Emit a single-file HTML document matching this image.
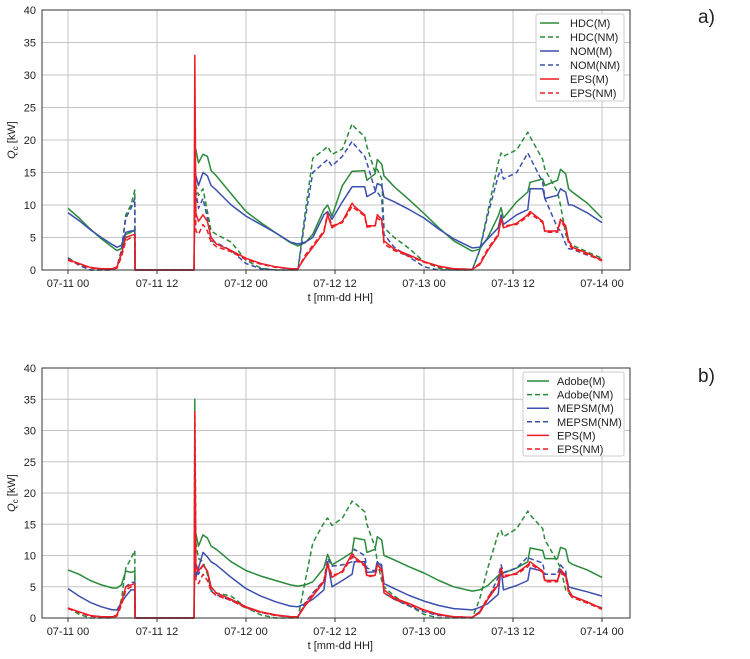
<!DOCTYPE html>
<html><head><meta charset="utf-8">
<style>
body{margin:0;background:#fff;width:750px;height:659px;overflow:hidden}
svg{display:block;font-family:"Liberation Sans","DejaVu Sans",sans-serif}
</style></head>
<body>
<svg id="chart" width="750" height="659" viewBox="0 0 750 659" xmlns="http://www.w3.org/2000/svg"></svg>
<script>
// shared time grid (hours since 07-11 00)
const times = [0,1.5,3,4.5,6,6.6,7.2,7.8,8.5,9,9.05,
 17,17.1,17.25,17.6,18.2,18.8,19.3,20,22,24,26,28,30,31,
 32,33,34.5,35,35.6,37,38.3,38.6,40,40.3,41.4,41.7,42.3,42.6,44,46,48,50,52,54.5,
 55.5,56.6,58,58.4,58.7,60.5,62,62.3,64,64.3,66,66.4,67.1,67.5,68,70,72];
const xTickHours = [0,12,24,36,48,60,72];
const xTickLabels = ["07-11 00","07-11 12","07-12 00","07-12 12","07-13 00","07-13 12","07-14 00"];
const yTicks = [0,5,10,15,20,25,30,35,40];

// panel a
const hdcM = [9.5,8,6.3,4.8,3.5,3.0,3.3,5.5,5.8,6.2,0,
 0,19,18.5,16.5,17.8,17.5,15.3,14.5,11.7,9,7.3,5.7,4.2,3.7,
 4.2,5.5,9.3,10,8.3,13,15.2,15.2,15.3,13.8,14.8,17,16.3,14.5,12.8,10.8,8.7,6.5,4.5,2.9,
 3.2,5,8.3,9.6,8,10.5,12,13.5,14,13,13.8,15.5,14.8,12.5,12,10.3,8];
const hdcNM = [1.9,0.8,0,0,0,0.5,3,8.5,10,12.3,0,
 0,14,13,11.5,12.5,9,6,5.5,4.3,1.5,0.3,0,0,0,
 9,17.2,18.5,19,17.8,18.6,22.5,22,20.5,19,15,15.5,14,6.5,5,3.3,1.3,0.3,0,0,
 3,9,16.5,18,17.5,18.5,21.2,20.5,17,15.5,12,10,5.5,4.5,3.8,2.8,1.8];
const nomM = [8.8,7.6,6.2,5,3.9,3.5,3.8,5.8,6,6,0,
 0,15,14.5,13,15,14.5,13,12.3,10,8.3,7,5.7,4.3,4,
 4.3,5,8.5,9,7.8,10.5,12.8,12.8,12.8,11.3,12,13.3,13,11.2,10.5,9.3,8,6.3,4.8,3.4,
 3.5,4.8,6.5,8.5,7,8.5,9.3,12.5,12.5,11,11.5,12.5,12,10,10,8.8,7.3];
const nomNM = [1.8,0.7,0,0,0,0.5,3,8,9.5,11,0,
 0,13,12,9.5,11,8,4.5,4.2,3,1,0.2,0,0,0,
 8,15,16.5,17,16,17.5,19.8,19.3,17.5,16.5,12.3,12,11,5.5,3.5,2,0.5,0,0,0,
 3,8.5,14.5,15.5,14,15,18,17.3,13.5,11,6.5,6,4,3.3,3.2,2.3,1.6];
const epsM = [1.6,1,0.4,0.2,0.2,0.5,2.5,5,5.3,5.5,0,
 0,33,8.7,7.5,8.5,7.5,5,4,3,1.8,1,0.5,0.2,0.2,
 2,3.5,5.8,8.5,6.5,7.5,10.3,9.8,8.5,6.8,6.8,8.5,7.8,4.5,3.2,2.3,1.3,0.6,0.2,0.1,
 0.8,3,5.3,8,6.5,7.2,8.5,9,7.5,6,6,7.8,6.8,4.5,3.5,2.6,1.5];
const epsNM = [1.5,0.9,0.3,0.2,0.1,0.3,2,4.5,5,5,0,
 0,25,6,5.5,7,6,4.3,3.6,2.8,1.6,0.9,0.4,0.2,0.2,
 2.3,3.8,6,8.8,6.8,7.3,9.8,9.5,8.3,6.6,6.8,8,7.5,4,3,2.1,1.2,0.5,0.2,0.1,
 1,3.3,5.5,7.8,6.8,7,8.2,8.7,7.3,5.8,5.8,7.5,6.5,4,3.3,2.4,1.4];

// panel b
const adobeM = [7.7,7,6,5.3,4.8,4.8,5.3,7.5,7.3,7.5,0,
 0,14,13.5,11.5,13.3,12.8,11.5,11,9,7.6,6.7,6,5.3,5.1,
 5.3,5.8,8,10.2,8.5,9.5,10.5,12.8,12.5,10.5,11,13,12.5,10,9.3,8.2,7.2,6,5,4.3,
 4.5,5.2,6.8,7.3,7.2,8,9,11.2,10.8,9.5,9.5,11.3,11,9,8.6,7.7,6.5];
const adobeNM = [1.6,0.6,0,0,0,0.5,3,8,9.5,10.8,0,
 0,35,12,9.5,9,7,4.5,4,3.5,1.7,0.5,0,0,0,
 6,12,15.2,16,14.8,16,18.7,18.5,17,15,11.3,9,6,5,3.5,2,0.6,0,0,0,
 3,8,13.5,14,13,14.3,17.1,16.5,14.3,12.5,9,8,4.5,4,3.5,2.5,1.5];
const mepsmM = [4.7,3.5,2.5,1.8,1.3,1.3,2.5,3.5,4.5,4.5,0,
 0,14,6.5,8,10.5,9.8,9,8.5,6.5,4.7,3.5,2.6,1.9,1.8,
 2.3,3,4.5,9,5,6,7,9,9,7.3,7.4,9,8.2,5.5,4.7,3.6,2.7,2,1.5,1.3,
 1.7,2.3,3.8,8,4.5,5.2,6,8,7.5,6,6,7.5,7,5,4.8,4.2,3.5];
const mepsmNM = [1.5,0.9,0.3,0.2,0.1,0.4,2.3,5,5.7,5.7,0,
 0,15,8,7,8.5,7.5,4.3,3.7,2.8,1.7,0.9,0.4,0.2,0.2,
 2.5,4,6,9.5,8.3,8.5,9,11,10,8,7.5,9,8.5,4,3,1.9,1,0.4,0.2,0.1,
 1,3,6.5,8.5,7.3,8,9.8,9.5,8.8,7,7,8.5,7.5,4,3.3,2.4,1.6];
const epsMb = epsM;
const epsNMb = epsNM;

const G="#2a8a3a", B="#3b4fae", R="#ee1c24";
const NS="http://www.w3.org/2000/svg";
const svg=document.getElementById('chart');
function mk(tag,attrs,parent){const e=document.createElementNS(NS,tag);for(const k in attrs)e.setAttribute(k,attrs[k]);(parent||svg).appendChild(e);return e;}

function panel(key,top,bottom,series,legBox,letter,letterY){
  const L=42,Rt=630;
  const g=mk('g',{});
  
  
  const xs=t=>68+t*(89/12);
  const ys=v=>bottom-(v/40)*(bottom-top);
  // grid
  yTicks.forEach(v=>{
    const l=mk('line',{x1:L,x2:Rt,y1:ys(v),y2:ys(v),stroke:'#c4c4c4','stroke-width':1},g);
    
    
    const t=mk('text',{x:L-6,y:ys(v)+4,'text-anchor':'end','font-size':11,fill:'#222'},g);
    t.textContent=v;
    
    
  });
  xTickHours.forEach((h,i)=>{
    const l=mk('line',{x1:xs(h),x2:xs(h),y1:top,y2:bottom,stroke:'#c4c4c4','stroke-width':1},g);
    
    
    const tk=mk('line',{x1:xs(h),x2:xs(h),y1:bottom,y2:bottom+4,stroke:'#333','stroke-width':1},g);
    
    
    const t=mk('text',{x:xs(h),y:bottom+17,'text-anchor':'middle','font-size':11,fill:'#222'},g);
    t.textContent=xTickLabels[i];
    
    
  });
  // series
  series.forEach(s=>{
    const d=times.map((t,i)=>(i?'L':'M')+xs(t).toFixed(1)+','+ys(s.v[i]).toFixed(1)).join(' ');
    const p=mk('path',{d:d,fill:'none',stroke:s.c,'stroke-width':1.5,'stroke-linejoin':'round'},g);
    if(s.dash)p.setAttribute('stroke-dasharray','5,3');
    
    
  });
  // frame
  const fr=mk('rect',{x:L,y:top,width:Rt-L,height:bottom-top,fill:'none',stroke:'#333','stroke-width':1},g);
  
  
  // axis titles
  const xt=mk('text',{x:373,y:bottom+31,'text-anchor':'end','font-size':11,fill:'#222'},g);
  xt.textContent='t  [mm-dd HH]';
  
  
  const cy=(top+bottom)/2;
  const yt=mk('text',{x:0,y:0,'text-anchor':'middle','font-size':11,fill:'#222',transform:`translate(15,${cy}) rotate(-90)`},g);
  yt.innerHTML='<tspan font-style="italic">Q</tspan><tspan font-size="8" dy="3">c</tspan><tspan dy="-3">  [kW]</tspan>';
  
  
  // legend
  const lg=mk('g',{},g);
  
  
  mk('rect',{x:legBox.x,y:legBox.y,width:legBox.w,height:legBox.h,fill:'#fff',stroke:'#ccc','stroke-width':1,rx:2},lg);
  series.forEach((s,i)=>{
    const yy=legBox.y+9+i*legBox.step;
    const e=mk('g',{},lg);
    
    
    const l=mk('line',{x1:legBox.x+4,x2:legBox.x+4+legBox.len,y1:yy,y2:yy,stroke:s.c,'stroke-width':1.5},e);
    if(s.dash)l.setAttribute('stroke-dasharray','5,3');
    const t=mk('text',{x:legBox.tx,y:yy+4,'font-size':11,fill:'#222'},e);
    t.textContent=s.name;
  });
  const lt=mk('text',{x:698,y:letterY,'font-size':19,fill:'#222','font-family':'Liberation Sans, sans-serif'},g);
  lt.textContent=letter;
  
  
}

panel('a',10,270,[
  {id:'hdc-m',name:'HDC(M)',v:hdcM,c:G},
  {id:'hdc-nm',name:'HDC(NM)',v:hdcNM,c:G,dash:1},
  {id:'nom-m',name:'NOM(M)',v:nomM,c:B},
  {id:'nom-nm',name:'NOM(NM)',v:nomNM,c:B,dash:1},
  {id:'eps-m',name:'EPS(M)',v:epsM,c:R},
  {id:'eps-nm',name:'EPS(NM)',v:epsNM,c:R,dash:1}
],{x:536,y:14,w:88,h:87,step:14,len:19,tx:570},'a)',23);

panel('b',368,618,[
  {id:'adobe-m',name:'Adobe(M)',v:adobeM,c:G},
  {id:'adobe-nm',name:'Adobe(NM)',v:adobeNM,c:G,dash:1},
  {id:'mepsm-m',name:'MEPSM(M)',v:mepsmM,c:B},
  {id:'mepsm-nm',name:'MEPSM(NM)',v:mepsmNM,c:B,dash:1},
  {id:'eps-m',name:'EPS(M)',v:epsMb,c:R},
  {id:'eps-nm',name:'EPS(NM)',v:epsNMb,c:R,dash:1}
],{x:523,y:372,w:101,h:84,step:13.6,len:22,tx:557},'b)',382);
</script>
</body></html>
